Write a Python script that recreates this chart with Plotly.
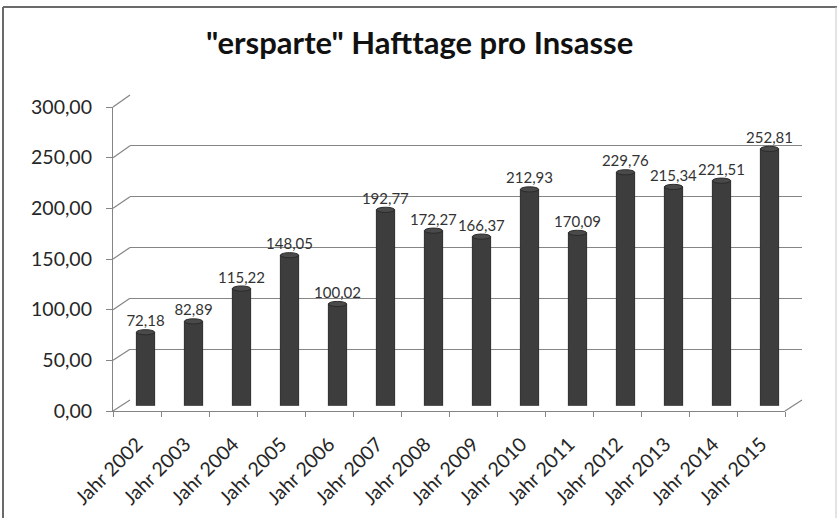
import plotly.graph_objects as go

# data
years = ["Jahr 2002", "Jahr 2003", "Jahr 2004", "Jahr 2005", "Jahr 2006",
         "Jahr 2007", "Jahr 2008", "Jahr 2009", "Jahr 2010", "Jahr 2011",
         "Jahr 2012", "Jahr 2013", "Jahr 2014", "Jahr 2015"]
days_saved = [72.18, 82.89, 115.22, 148.05, 100.02, 192.77, 172.27, 166.37,
              212.93, 170.09, 229.76, 215.34, 221.51, 252.81]
y_ticks = [0, 50, 100, 150, 200, 250, 300]

W, H = 837, 518
FONT = "Lato"
GRID = "#858585"


def fx(px):
    return px / W


def fy(py):
    return 1 - py / H


# front plane, back wall and bar (mid) plane, in pixels
front = dict(x0=113, x1=785, y0=411, y1=107)
back = dict(x0=130, x1=802, y0=400, y1=95)
mid = dict(x0=121.5, x1=793.5, y0=405.5, y1=101)

fig = go.Figure()

# invisible trace so the back wall gets drawn
fig.add_trace(go.Scatter(x=[0], y=[0], xaxis="x2", yaxis="y2",
                         mode="markers", marker=dict(opacity=0),
                         hoverinfo="skip", showlegend=False))
# front axis carrier
fig.add_trace(go.Scatter(x=years, y=[None] * len(years), xaxis="x", yaxis="y",
                         mode="markers", showlegend=False, hoverinfo="skip"))

bar_w = 0.38
fig.add_trace(go.Bar(
    x=list(range(len(years))), y=days_saved, xaxis="x3", yaxis="y3",
    width=bar_w, marker=dict(color="#3d3d3d", line=dict(color="#2b2b2b", width=1)),
    texttemplate="%{y:.2f}", textposition="outside", cliponaxis=False,
    constraintext="none",
    textfont=dict(family=FONT, size=15, color="#333333"),
    showlegend=False,
))

shapes = []
# cylinder caps
e = 2.6 * 300 / (mid["y0"] - mid["y1"])
for i, v in enumerate(days_saved):
    shapes.append(dict(type="circle", xref="x3", yref="y3",
                       x0=i - bar_w / 2, x1=i + bar_w / 2, y0=v - e, y1=v + e,
                       fillcolor="#4a4a4a", line=dict(color="#2b2b2b", width=1)))
    shapes.append(dict(type="circle", xref="x3", yref="y3", layer="below",
                       x0=i - bar_w / 2, x1=i + bar_w / 2, y0=-e, y1=e,
                       fillcolor="#3d3d3d", line=dict(color="#2b2b2b", width=1)))

# perspective connectors from front axis to back wall
for t in y_ticks:
    yf = front["y0"] + (front["y1"] - front["y0"]) * t / 300
    yb = back["y0"] + (back["y1"] - back["y0"]) * t / 300
    shapes.append(dict(type="line", xref="paper", yref="paper", layer="below",
                       x0=fx(front["x0"]), y0=fy(yf), x1=fx(back["x0"]), y1=fy(yb),
                       line=dict(color=GRID, width=1.2)))
# floor
shapes.append(dict(type="line", xref="paper", yref="paper", layer="below",
                   x0=fx(front["x1"]), y0=fy(front["y0"]),
                   x1=fx(back["x1"]), y1=fy(back["y0"]),
                   line=dict(color=GRID, width=1.2)))
# chart frame
shapes.append(dict(type="line", xref="paper", yref="paper",
                   x0=fx(3), y0=fy(7), x1=1, y1=fy(7),
                   line=dict(color="#6a6a6a", width=2)))
shapes.append(dict(type="line", xref="paper", yref="paper",
                   x0=fx(3), y0=fy(7), x1=fx(3), y1=0,
                   line=dict(color="#6a6a6a", width=2)))
shapes.append(dict(type="line", xref="paper", yref="paper",
                   x0=fx(836), y0=fy(7), x1=fx(836), y1=0,
                   line=dict(color="#c8c8c8", width=1)))

fig.update_layout(
    template="none",
    width=W, height=H,
    margin=dict(l=0, r=0, t=0, b=0, pad=0),
    paper_bgcolor="white", plot_bgcolor="rgba(0,0,0,0)",
    separators=",.",
    font=dict(family=FONT, color="#262626"),
    shapes=shapes,
    annotations=[dict(text='"ersparte" Hafttage pro Insasse', xref="paper", yref="paper",
                      x=fx(420), y=fy(42), showarrow=False, xanchor="center",
                      yanchor="middle",
                      font=dict(family=FONT, size=31, color="#111111", weight="bold"))],
    # front axes
    xaxis=dict(domain=[fx(front["x0"]), fx(front["x1"])], anchor="y",
               type="category", range=[-0.5, len(years) - 0.5], automargin=False,
               showline=True, linecolor=GRID, linewidth=1.2,
               ticks="outside", tickson="boundaries", ticklen=5, tickcolor=GRID,
               tickangle=-45, showgrid=False, ticklabelstandoff=13,
               tickfont=dict(family=FONT, size=19.5, color="#262626")),
    yaxis=dict(domain=[fy(front["y0"]), fy(front["y1"])], anchor="x",
               range=[0, 300], tickvals=y_ticks, tickformat=".2f", automargin=False,
               showline=True, linecolor=GRID, linewidth=1.2,
               ticks="outside", ticklen=6, tickcolor=GRID, showgrid=False,
               zeroline=False, ticklabelstandoff=10,
               tickfont=dict(family=FONT, size=19.5, color="#262626")),
    # back wall
    xaxis2=dict(domain=[fx(back["x0"]), fx(back["x1"])], anchor="y2",
                range=[0, 1], visible=False, automargin=False),
    yaxis2=dict(domain=[fy(back["y0"]), fy(back["y1"])], anchor="x2",
                range=[0, 300], tickvals=y_ticks, showgrid=True, gridcolor=GRID,
                gridwidth=1.2, showticklabels=False, zeroline=False, ticks="",
                automargin=False),
    # bar plane
    xaxis3=dict(domain=[fx(mid["x0"]), fx(mid["x1"])], anchor="y3",
                range=[-0.5, len(years) - 0.5], visible=False, automargin=False),
    yaxis3=dict(domain=[fy(mid["y0"]), fy(mid["y1"])], anchor="x3",
                range=[0, 300], visible=False, automargin=False),
)

fig.write_html("out.html", config={"displayModeBar": False},
               post_script="document.body.style.margin='0';"
                           "document.body.style.overflow='hidden';")
